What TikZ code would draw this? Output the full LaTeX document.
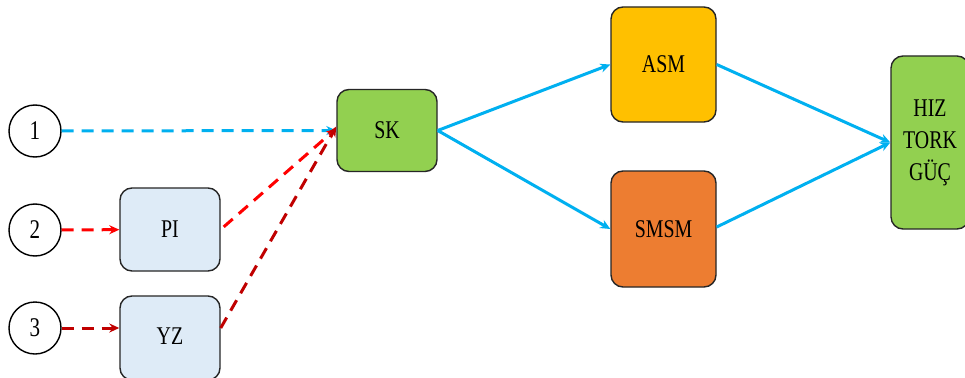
\documentclass[tikz,border=0pt]{standalone}
\usepackage{fontspec}
\setmainfont{Liberation Serif}[FakeStretch=0.78]
\usetikzlibrary{arrows.meta}
\definecolor{cblue}{HTML}{00B0F0}
\definecolor{cred}{HTML}{FF0000}
\definecolor{cdred}{HTML}{C00000}
\definecolor{boxblue}{HTML}{DEEBF7}
\definecolor{boxgreen}{HTML}{92D050}
\definecolor{boxyellow}{HTML}{FFC000}
\definecolor{boxorange}{HTML}{ED7D31}
\definecolor{edge}{HTML}{262626}
\tikzset{
  block/.style={draw=edge, line width=1.4pt, rounded corners=12pt, inner sep=0pt,
                font=\fontsize{25.5}{32}\selectfont, align=center},
  inport/.style={circle, draw=black, line width=1.4pt, minimum size=52pt, inner sep=0pt,
                 font=\fontsize{27}{28}\selectfont},
  tip/.style={-{Stealth[length=10pt,width=9pt]}},
  flow/.style={tip, line width=3pt, draw=cblue},
  dflow/.style={tip, line width=3pt, dash pattern=on 12pt off 8pt},
}
\begin{document}
\begin{tikzpicture}[x=1pt,y=-1pt]
\clip (0,0) rectangle (965,377);
\fill[white] (0,0) rectangle (965,377);

% input ports
\node[inport] (c1) at (35,131) {1};
\node[inport] (c2) at (35,230) {2};
\node[inport] (c3) at (35,328) {3};

% processing blocks
\node[block, fill=boxblue, minimum width=100pt, minimum height=83pt] (pi) at (170,229.5) {PI};
\node[block, fill=boxblue, minimum width=100pt, minimum height=84pt] (yz) at (170,338) {};
\node[font=\fontsize{25.5}{32}\selectfont] (yzl) at (170,336) {YZ};
\node[block, fill=boxgreen, minimum width=100pt, minimum height=82pt] (sk) at (387,130.5) {SK};
\node[block, fill=boxyellow, minimum width=105pt, minimum height=115pt] (asm) at (663.5,64.5) {ASM};
\node[block, fill=boxorange, minimum width=105pt, minimum height=116pt] (smsm) at (663.5,229) {SMSM};
\node[block, fill=boxgreen, minimum width=78pt, minimum height=173pt] (out) at (930,142.5) {HIZ\\TORK\\GÜÇ};

% dashed inputs
\draw[dflow, draw=cblue] (c1) -- (sk.west);
\draw[dflow, draw=cred] (c2) -- (pi);
\draw[dflow, draw=cdred] (c3) -- (c3 -| yz.west);
\draw[dflow, draw=cred, shorten <=4pt] (pi.east) -- ([yshift=2pt]sk.west);
\draw[dflow, draw=cdred] (yz.east |- c3) -- ([yshift=4pt]sk.west);

% solid flows
\draw[flow] (sk.east) -- (asm.west);
\draw[flow] (sk.east) -- (smsm.west);
\draw[flow] (asm.east) -- (out.west);
\draw[flow] ([yshift=2pt]smsm.east) -- (out.west);
\end{tikzpicture}
\end{document}
